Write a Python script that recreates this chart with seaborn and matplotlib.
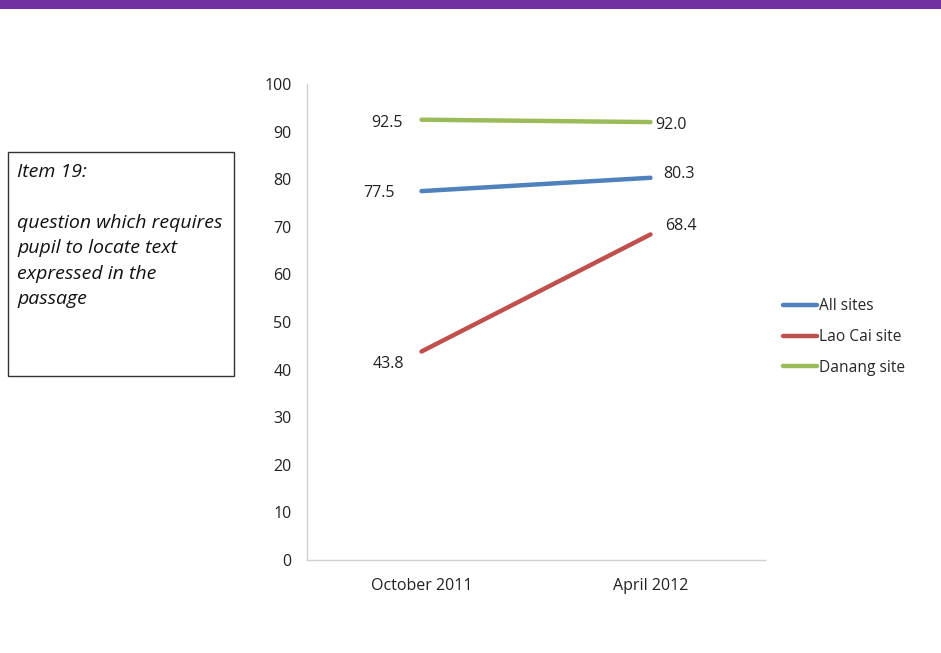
import matplotlib
matplotlib.use("Agg")
import matplotlib.pyplot as plt
from matplotlib.patches import Rectangle
import pandas as pd
import seaborn as sns

# Survey rounds and percentage correct per site
periods = ["October 2011", "April 2012"]
all_sites = [77.5, 80.3]
lao_cai = [43.8, 68.4]
danang = [92.5, 92.0]
series_names = ["All sites", "Lao Cai site", "Danang site"]
y_ticks = [0, 10, 20, 30, 40, 50, 60, 70, 80, 90, 100]

df = pd.DataFrame({
    "period": periods * 3,
    "value": all_sites + lao_cai + danang,
    "series": [s for s in series_names for _ in periods],
})

sns.set_theme(style="white")
plt.rcParams["font.family"] = ["Open Sans", "DejaVu Sans"]

W, H = 941, 653
fig = plt.figure(figsize=(W / 100, H / 100), dpi=100)

# plot area in pixel terms
left, right, top, bottom = 307, 765, 84, 560
ax = fig.add_axes([left / W, 1 - bottom / H, (right - left) / W, (bottom - top) / H])

palette = {"All sites": "#4F81BD", "Lao Cai site": "#C0504D", "Danang site": "#9BBB59"}
sns.lineplot(data=df, x="period", y="value", hue="series", palette=palette,
             linewidth=3.2, sort=False, ax=ax, legend=True)

FS = 11.5
ax.set_xlim(-0.5, 1.5)
ax.set_ylim(0, 100)
ax.set_yticks(y_ticks)
ax.set_xlabel("")
ax.set_ylabel("")
for s in ["top", "right"]:
    ax.spines[s].set_visible(False)
for s in ["left", "bottom"]:
    ax.spines[s].set_color("#d0d0d0")
    ax.spines[s].set_linewidth(1.0)
ax.tick_params(axis="y", labelsize=FS, colors="#222222", pad=11, length=0)
ax.tick_params(axis="x", labelsize=FS, colors="#222222", pad=13, length=0)

# value labels (offsets in pixels from each point)
label_offsets = {
    "All sites": [(-43, -2), (29, 4)],
    "Lao Cai site": [(-33, -12), (30, 8)],
    "Danang site": [(-35, -3), (21, -3)],
}
vals = {"All sites": all_sites, "Lao Cai site": lao_cai, "Danang site": danang}
for name in series_names:
    for i, v in enumerate(vals[name]):
        dx, dy = label_offsets[name][i]
        ax.annotate(f"{v:.1f}", xy=(i, v), xytext=(dx, dy), textcoords="offset pixels",
                    ha="center", va="center", fontsize=FS, color="#222222")

leg = ax.legend(loc="center left", bbox_to_anchor=(783 / W, 1 - 337 / H),
                bbox_transform=fig.transFigure, frameon=False, fontsize=11.2,
                handlelength=2.2, handletextpad=0.12, labelspacing=0.95,
                borderaxespad=0, borderpad=0)
for line in leg.get_lines():
    line.set_linewidth(3.2)

# purple banner
fig.patches.append(Rectangle((0, 1 - 9 / H), 1, 9 / H, transform=fig.transFigure,
                             facecolor="#7030A0", edgecolor="none"))

# description box
fig.patches.append(Rectangle((8 / W, 1 - 376 / H), 226 / W, 224 / H, transform=fig.transFigure,
                             facecolor="white", edgecolor="#333333", linewidth=1.0))
fig.text(17 / W, 1 - 163 / H,
         "Item 19:\n\nquestion which requires\npupil to locate text\nexpressed in the\npassage",
         ha="left", va="top", fontsize=14, style="italic", color="#111111",
         linespacing=1.53)

fig.savefig("out.png", dpi=100)
